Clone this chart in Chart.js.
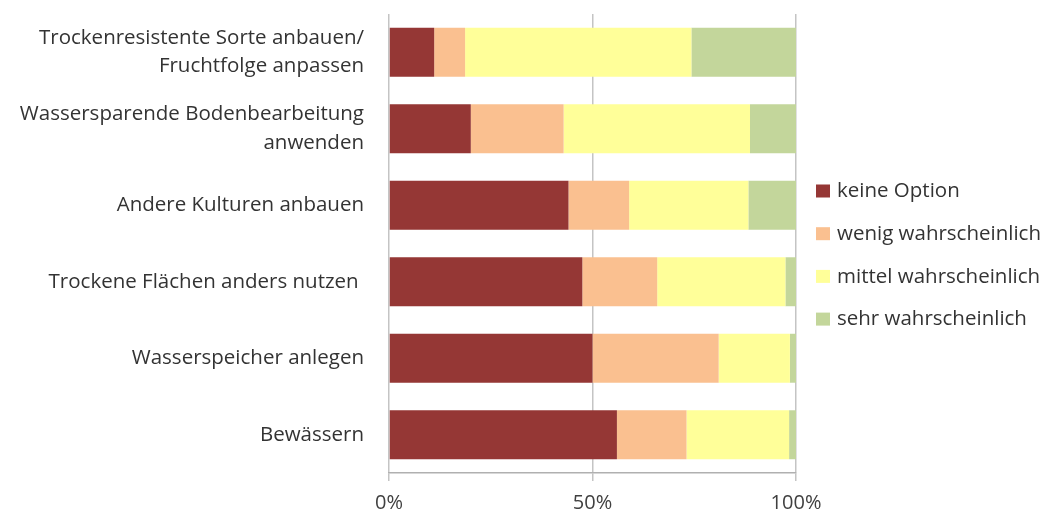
<!DOCTYPE html>
<html>
<head>
<meta charset="utf-8">
<script src="https://cdn.jsdelivr.net/npm/chart.js@4"></script>
<style>
  html, body { margin: 0; padding: 0; background: #fff; }
  #wrap { width: 1060px; height: 511px; }
</style>
</head>
<body>
<div id="wrap"><canvas id="chart"></canvas></div>
<script>
const categories = [
  ["Trockenresistente Sorte anbauen/", "Fruchtfolge anpassen"],
  ["Wassersparende Bodenbearbeitung", "anwenden"],
  "Andere Kulturen anbauen",
  "Trockene Flächen anders nutzen ",
  "Wasserspeicher anlegen",
  "Bewässern",
];

const seriesNames = ["keine Option", "wenig wahrscheinlich", "mittel wahrscheinlich", "sehr wahrscheinlich"];

const keineOption = [11.1, 20.1, 44.1, 47.5, 50.0, 56.0];
const wenig = [7.6, 22.8, 14.9, 18.4, 31.0, 17.1];
const mittel = [55.6, 45.8, 29.3, 31.5, 17.5, 25.2];
const sehr = [25.7, 11.3, 11.7, 2.6, 1.5, 1.7];

const xTicks = [0, 50, 100];

const colors = ["#953735", "#FAC090", "#FFFF99", "#C3D69B"];
const font = "'Open Sans', Lato, sans-serif";

// legend drawn by hand so spacing matches the original
const sideLegend = {
  id: "sideLegend",
  afterDraw(chart) {
    const ctx = chart.ctx;
    const x = chart.chartArea.right + 20;
    const yStart = chart.height / 2 - 64;
    ctx.save();
    ctx.font = "20.5px " + font;
    ctx.textBaseline = "middle";
    chart.data.datasets.forEach((ds, i) => {
      const y = yStart + i * 42.7;
      ctx.fillStyle = ds.backgroundColor;
      ctx.fillRect(x, y - 7, 14, 13);
      ctx.fillStyle = "#333";
      ctx.fillText(ds.label, x + 21, y);
    });
    ctx.restore();
  },
};

const ctx = document.getElementById("chart");

new Chart(ctx, {
  type: "bar",
  data: {
    labels: categories,
    datasets: [keineOption, wenig, mittel, sehr].map((vals, i) => ({
      label: seriesNames[i],
      data: vals,
      backgroundColor: colors[i],
      borderWidth: 0,
      barPercentage: 0.64,
      categoryPercentage: 1,
    })),
  },
  options: {
    indexAxis: "y",
    responsive: true,
    maintainAspectRatio: false,
    animation: false,
    layout: { padding: { left: 20, right: 264, top: 14, bottom: 0 } },
    plugins: {
      legend: { display: false },
      tooltip: { enabled: false },
    },
    scales: {
      x: {
        stacked: true,
        min: 0,
        max: 100,
        afterBuildTicks: (scale) => {
          scale.ticks = xTicks.map((v) => ({ value: v }));
        },
        afterFit: (scale) => {
          scale.height = 38;
        },
        grid: { color: "#c4c4c4", lineWidth: 1.5, tickLength: 8 },
        border: { color: "#b0b0b0", width: 1.5 },
        ticks: {
          callback: (v) => v + "%",
          color: "#404040",
          font: { family: font, size: 20, lineHeight: 1 },
          padding: 12,
          maxRotation: 0,
        },
      },
      y: {
        stacked: true,
        afterFit: (scale) => {
          scale.width = 369;
          scale.paddingTop = 0;
          scale.paddingBottom = 0;
        },
        grid: { display: false, drawTicks: false },
        border: { display: false },
        ticks: {
          color: "#333",
          font: { family: font, size: 20.5, lineHeight: 1.4 },
          padding: 25,
        },
      },
    },
  },
  plugins: [sideLegend],
});
</script>
</body>
</html>
